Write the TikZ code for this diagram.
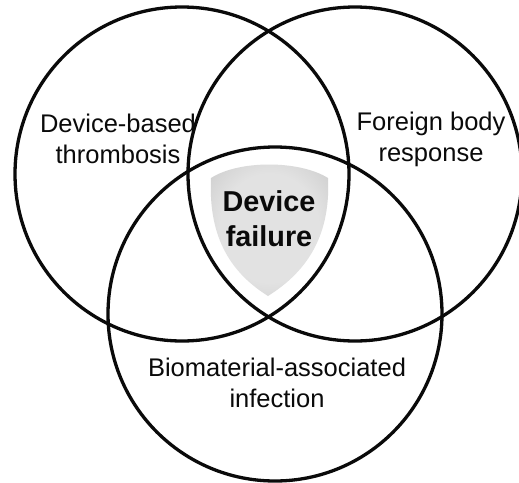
\documentclass[tikz,border=0pt]{standalone}
\usepackage{fontspec}
\setmainfont{Liberation Sans}
\usetikzlibrary{positioning}
\definecolor{vennInk}{HTML}{0A0A0A}
\definecolor{shieldLight}{HTML}{E2E2E2}
\definecolor{shieldMid}{HTML}{CCCCCC}
\definecolor{shieldDark}{HTML}{9E9E9E}
\pgfdeclareradialshading{shieldShade}{\pgfpoint{0bp}{0bp}}{color(0bp)=(shieldLight); color(20bp)=(shieldLight); color(34bp)=(shieldMid); color(46bp)=(shieldDark); color(50bp)=(shieldDark)}
\begin{document}
\begin{tikzpicture}[x=1pt,y=-1pt,line cap=round,line join=round]
\useasboundingbox[fill=white] (0,0) rectangle (519,482);
\clip (0,0) rectangle (519,482);
\tikzset{ring/.style={circle,draw=vennInk,line width=3.3pt,minimum size=334pt,inner sep=0pt},lbl/.style={align=center,text=vennInk,font=\fontsize{25.5}{31}\selectfont},core/.style={align=center,text=vennInk,font=\bfseries\fontsize{28.8}{35}\selectfont}}
% central shield
\path[shading=shieldShade] (211,178) .. controls (239,160) and (299,160) .. (328,178) .. controls (331,240) and (303,274) .. (268,296) .. controls (233,274) and (208,240) .. (211,178) -- cycle;
% three overlapping sets
\node[ring] (thrombosis) at (182,174) {};
\node[ring] (foreign) at (355,174) {};
\node[ring] (infection) at (275,314) {};
\node[lbl] (thrombosisLbl) at (118,139) {Device-based\\thrombosis};
\node[lbl] (foreignLbl) at (431,139) {Foreign body\\response};
\node[lbl] (infectionLbl) at (277,383) {Biomaterial-associated\\infection};
\node[core] (failure) at (269,219) {Device\\failure};
\end{tikzpicture}
\end{document}
